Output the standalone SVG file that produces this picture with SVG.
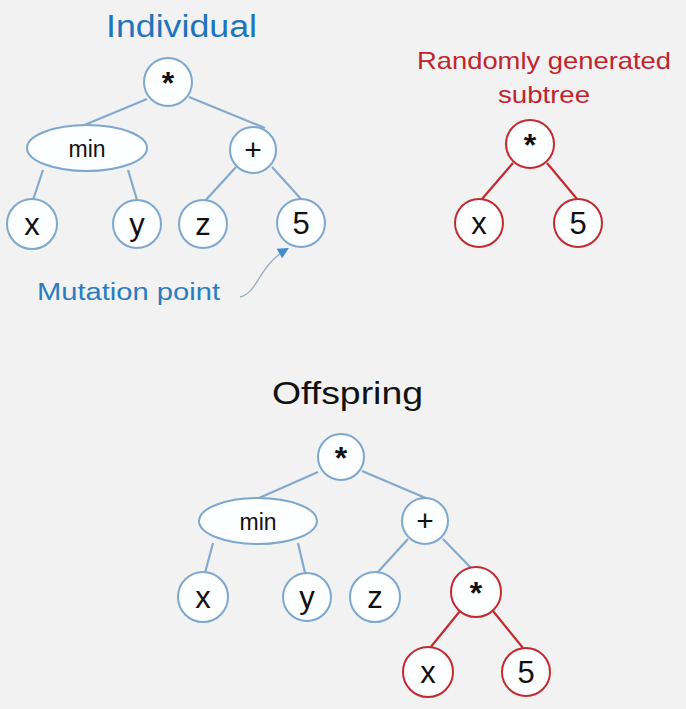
<svg xmlns="http://www.w3.org/2000/svg" width="686" height="709" viewBox="0 0 686 709">
<style>
.bg{fill:#f2f2f2}
.n{fill:#fdfeff;stroke:#7ea7ce;stroke-width:2}
.r{fill:#fdfeff;stroke:#c22a31;stroke-width:2}
.e{stroke:#85a9cd;stroke-width:2.2;fill:none}
.er{stroke:#c22a31;stroke-width:2.2;fill:none}
.t{font-family:"Liberation Sans",Arial,sans-serif;fill:#111;text-anchor:middle}
.leaf{font-size:31px}
.op{font-size:30px}
.ast{font-size:32px;font-weight:bold}
.mn{font-size:23px}
.h{font-family:"Liberation Sans",Arial,sans-serif}
</style>
<defs>
<marker id="ah" viewBox="0 0 10 10" refX="8" refY="5" markerWidth="13" markerHeight="11" orient="auto" markerUnits="userSpaceOnUse">
<path d="M0,0 L10,5 L0,10 z" fill="#3f8ccf"/>
</marker>
</defs>
<rect class="bg" x="0" y="0" width="686" height="709"/>

<text class="h" x="106" y="37" font-size="31" fill="#1f74bb" textLength="151" lengthAdjust="spacingAndGlyphs">Individual</text>
<text class="h" x="417" y="69" font-size="24" fill="#c0252d" textLength="254" lengthAdjust="spacingAndGlyphs">Randomly generated</text>
<text class="h" x="498" y="103" font-size="24" fill="#c0252d" textLength="92" lengthAdjust="spacingAndGlyphs">subtree</text>
<text class="h" x="37" y="300" font-size="23" fill="#2a7cc1" textLength="183" lengthAdjust="spacingAndGlyphs">Mutation point</text>
<text class="h" x="272" y="404" font-size="31" fill="#111" textLength="151" lengthAdjust="spacingAndGlyphs">Offspring</text>

<g id="connectors">
<line class="e" x1="147" y1="99" x2="82" y2="126"/>
<line class="e" x1="189" y1="97" x2="265" y2="128"/>
<line class="e" x1="43" y1="170" x2="33" y2="200"/>
<line class="e" x1="128" y1="170" x2="137" y2="200"/>
<line class="e" x1="236" y1="167" x2="205" y2="201"/>
<line class="e" x1="272" y1="167" x2="301" y2="199"/>
<line class="er" x1="513" y1="163" x2="482" y2="199"/>
<line class="er" x1="547" y1="163" x2="577" y2="199"/>
<line class="e" x1="318" y1="472" x2="259" y2="498"/>
<line class="e" x1="362" y1="471" x2="428" y2="499"/>
<line class="e" x1="213" y1="543" x2="205" y2="573"/>
<line class="e" x1="298" y1="543" x2="305" y2="573"/>
<line class="e" x1="408" y1="539" x2="377" y2="573"/>
<line class="e" x1="443" y1="539" x2="472" y2="569"/>
<line class="er" x1="460" y1="611" x2="430" y2="648"/>
<line class="er" x1="493" y1="611" x2="523" y2="648"/>
<path d="M240,297 C258,293 258,266 287,249" stroke="#9fb0c2" stroke-width="1.4" fill="none" marker-end="url(#ah)"/>
</g>

<g id="ind-root"><circle class="n" cx="168" cy="82" r="24"/><text class="t ast" x="168" y="94">*</text></g>
<g id="ind-min"><ellipse class="n" cx="87" cy="148" rx="60" ry="23"/><text class="t mn" x="87" y="157">min</text></g>
<g id="ind-plus"><circle class="n" cx="253" cy="150" r="23"/><text class="t op" x="253" y="160">+</text></g>
<g id="ind-x"><circle class="n" cx="32" cy="224" r="25"/><text class="t leaf" x="32" y="235">x</text></g>
<g id="ind-y"><circle class="n" cx="137" cy="224" r="24"/><text class="t leaf" x="137" y="235">y</text></g>
<g id="ind-z"><circle class="n" cx="203" cy="224" r="24"/><text class="t leaf" x="203" y="235">z</text></g>
<g id="ind-5"><circle class="n" cx="301" cy="223" r="24"/><text class="t leaf" x="301" y="234">5</text></g>

<g id="sub-root"><circle class="r" cx="530" cy="144" r="24"/><text class="t ast" x="530" y="156">*</text></g>
<g id="sub-x"><circle class="r" cx="479" cy="223" r="24"/><text class="t leaf" x="479" y="234">x</text></g>
<g id="sub-5"><circle class="r" cx="578" cy="223" r="24"/><text class="t leaf" x="578" y="234">5</text></g>

<g id="off-root"><circle class="n" cx="341" cy="457" r="23"/><text class="t ast" x="341" y="469">*</text></g>
<g id="off-min"><ellipse class="n" cx="258" cy="521" rx="59" ry="23"/><text class="t mn" x="258" y="530">min</text></g>
<g id="off-plus"><circle class="n" cx="425" cy="521" r="23"/><text class="t op" x="425" y="531">+</text></g>
<g id="off-x"><circle class="n" cx="203" cy="597" r="25"/><text class="t leaf" x="203" y="608">x</text></g>
<g id="off-y"><circle class="n" cx="307" cy="597" r="24"/><text class="t leaf" x="307" y="608">y</text></g>
<g id="off-z"><circle class="n" cx="375" cy="597" r="25"/><text class="t leaf" x="375" y="608">z</text></g>
<g id="off-mul"><circle class="r" cx="476" cy="592" r="25"/><text class="t ast" x="476" y="604">*</text></g>
<g id="off-x2"><circle class="r" cx="428" cy="672" r="25"/><text class="t leaf" x="428" y="683">x</text></g>
<g id="off-5"><circle class="r" cx="526" cy="672" r="24"/><text class="t leaf" x="526" y="683">5</text></g>
</svg>
